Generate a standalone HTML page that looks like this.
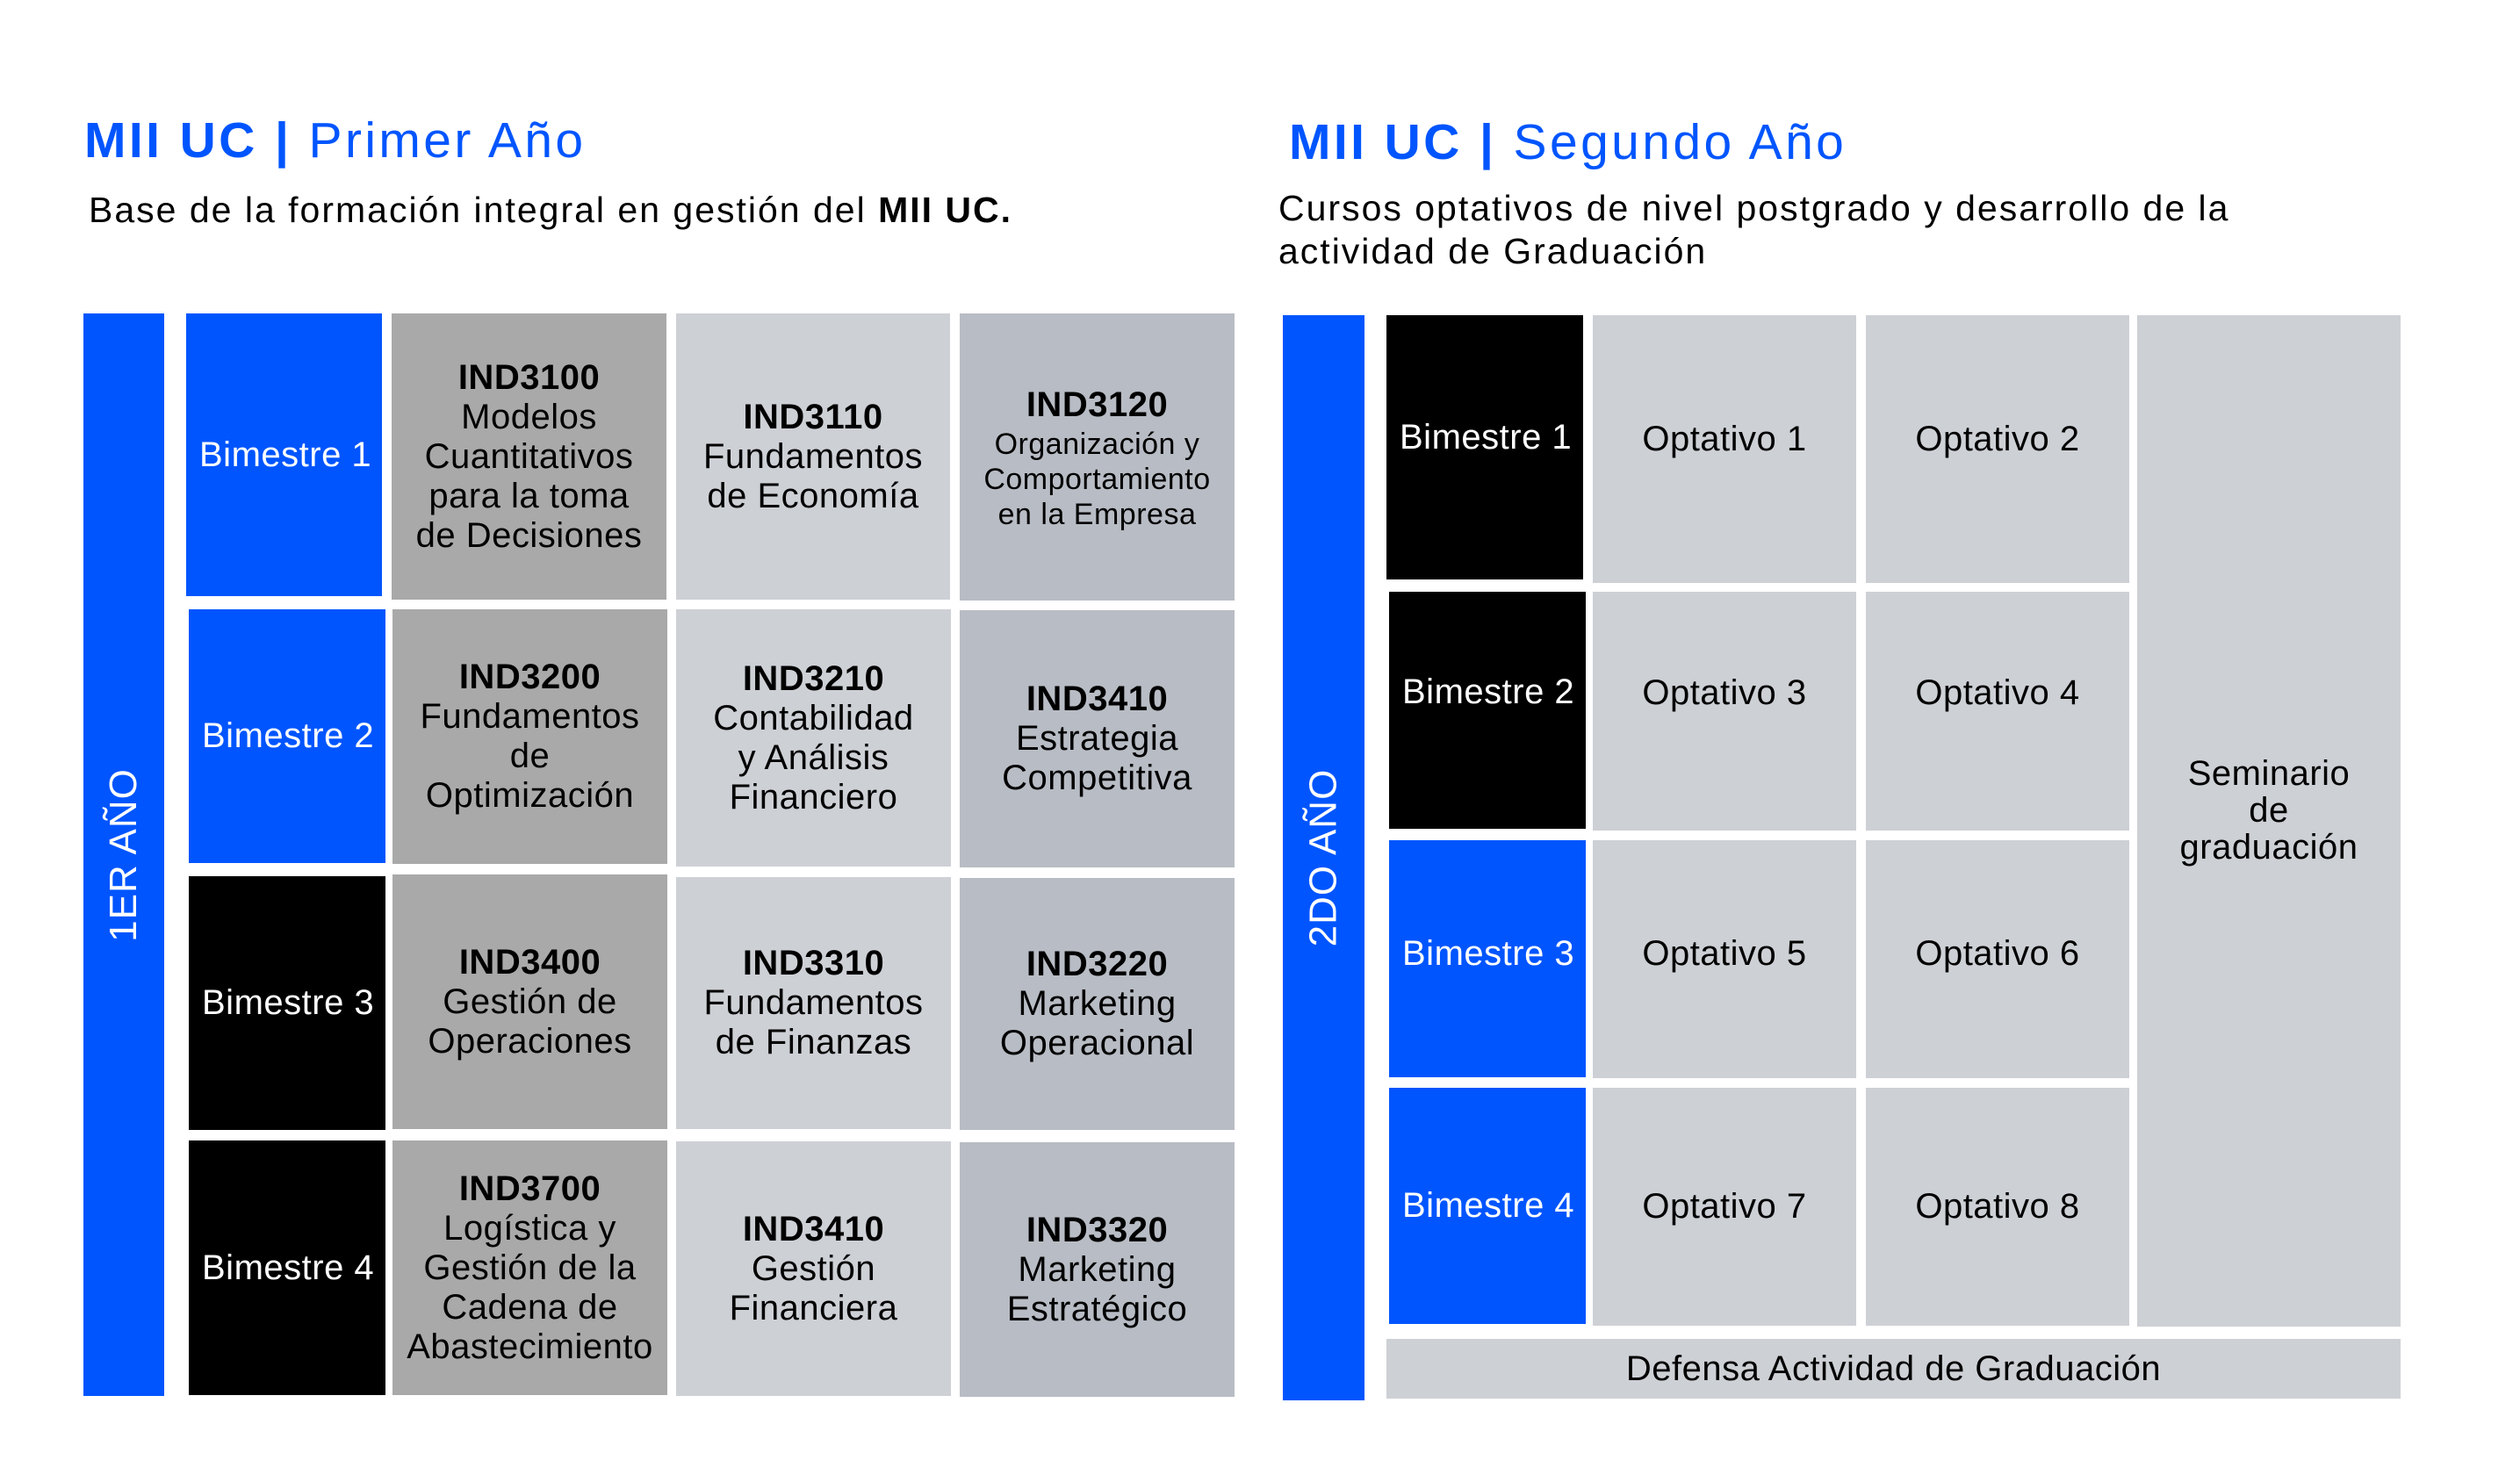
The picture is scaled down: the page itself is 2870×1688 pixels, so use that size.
<!DOCTYPE html>
<html><head><meta charset="utf-8">
<style>
html,body{margin:0;padding:0;background:#fff;}
body{width:2870px;height:1688px;position:relative;overflow:hidden;font-family:"Liberation Sans",sans-serif;color:#000;}
.a{position:absolute;box-sizing:border-box;}
.c{display:flex;flex-direction:column;align-items:center;justify-content:center;text-align:center;font-size:40px;line-height:45px;letter-spacing:0.5px;}
.c b{font-weight:bold;}
.bl{background:#0055FF;}
.bk{background:#000;}
.g1{background:#A9A9A9;}
.g2{background:#CDD0D5;}
.g3{background:#B8BCC4;}
.bim{color:#fff;font-size:40px;display:flex;align-items:center;padding-left:15px;letter-spacing:0.5px;}
.t{font-size:57px;color:#0055FF;white-space:nowrap;letter-spacing:3.4px;}
.s{font-size:41px;white-space:nowrap;line-height:49px;letter-spacing:2px;}
.vert{color:#fff;font-size:44px;letter-spacing:1px;white-space:nowrap;transform:rotate(-90deg);}
</style></head><body>

<div class="a t" style="left:96px;top:127px;"><b>MII UC |</b> Primer Año</div>
<div class="a s" style="left:101px;top:215px;">Base de la formación integral en gestión del <b>MII UC.</b></div>

<div class="a bl" style="left:95px;top:357px;width:92px;height:1233px;"></div>
<div class="a" style="left:95px;top:357px;width:92px;height:1233px;display:flex;align-items:center;justify-content:center;"><div class="vert">1ER AÑO</div></div>

<div class="a bl bim" style="left:212px;top:357px;width:223px;height:322px;">Bimestre 1</div>
<div class="a bl bim" style="left:215px;top:694px;width:224px;height:289px;">Bimestre 2</div>
<div class="a bk bim" style="left:215px;top:998px;width:224px;height:289px;">Bimestre 3</div>
<div class="a bk bim" style="left:215px;top:1299px;width:224px;height:290px;">Bimestre 4</div>

<div class="a g1 c" style="left:446px;top:357px;width:313px;height:326px;"><b>IND3100</b>Modelos<br>Cuantitativos<br>para la toma<br>de Decisiones</div>
<div class="a g2 c" style="left:770px;top:357px;width:312px;height:326px;"><b>IND3110</b>Fundamentos<br>de Economía</div>
<div class="a g3 c" style="left:1093px;top:357px;width:313px;height:327px;"><b style="line-height:50px">IND3120</b><span style="font-size:34px;line-height:40px">Organización y<br>Comportamiento<br>en la Empresa</span></div>

<div class="a g1 c" style="left:447px;top:694px;width:313px;height:290px;"><b>IND3200</b>Fundamentos<br>de<br>Optimización</div>
<div class="a g2 c" style="left:770px;top:694px;width:313px;height:293px;"><b>IND3210</b>Contabilidad<br>y Análisis<br>Financiero</div>
<div class="a g3 c" style="left:1093px;top:695px;width:313px;height:293px;"><b>IND3410</b>Estrategia<br>Competitiva</div>

<div class="a g1 c" style="left:447px;top:996px;width:313px;height:290px;"><b>IND3400</b>Gestión de<br>Operaciones</div>
<div class="a g2 c" style="left:770px;top:999px;width:313px;height:287px;"><b>IND3310</b>Fundamentos<br>de Finanzas</div>
<div class="a g3 c" style="left:1093px;top:1000px;width:313px;height:287px;"><b>IND3220</b>Marketing<br>Operacional</div>

<div class="a g1 c" style="left:447px;top:1299px;width:313px;height:290px;"><b>IND3700</b>Logística y<br>Gestión de la<br>Cadena de<br>Abastecimiento</div>
<div class="a g2 c" style="left:770px;top:1300px;width:313px;height:290px;"><b>IND3410</b>Gestión<br>Financiera</div>
<div class="a g3 c" style="left:1093px;top:1301px;width:313px;height:290px;"><b>IND3320</b>Marketing<br>Estratégico</div>

<div class="a t" style="left:1468px;top:129px;"><b>MII UC |</b> Segundo Año</div>
<div class="a s" style="left:1456px;top:213px;">Cursos optativos de nivel postgrado y desarrollo de la<br>actividad de Graduación</div>

<div class="a bl" style="left:1461px;top:359px;width:93px;height:1236px;"></div>
<div class="a" style="left:1461px;top:359px;width:93px;height:1236px;display:flex;align-items:center;justify-content:center;"><div class="vert">2DO AÑO</div></div>

<div class="a bk bim" style="left:1579px;top:359px;width:224px;height:301px;padding-bottom:22px;">Bimestre 1</div>
<div class="a bk bim" style="left:1582px;top:674px;width:224px;height:270px;padding-bottom:42px;">Bimestre 2</div>
<div class="a bl bim" style="left:1582px;top:957px;width:224px;height:270px;padding-bottom:12px;">Bimestre 3</div>
<div class="a bl bim" style="left:1582px;top:1239px;width:224px;height:269px;">Bimestre 4</div>

<div class="a g2 c" style="left:1814px;top:359px;width:300px;height:305px;padding-bottom:22px;">Optativo 1</div>
<div class="a g2 c" style="left:2125px;top:359px;width:300px;height:305px;padding-bottom:22px;">Optativo 2</div>
<div class="a g2 c" style="left:1814px;top:674px;width:300px;height:272px;padding-bottom:42px;">Optativo 3</div>
<div class="a g2 c" style="left:2125px;top:674px;width:300px;height:272px;padding-bottom:42px;">Optativo 4</div>
<div class="a g2 c" style="left:1814px;top:957px;width:300px;height:271px;padding-bottom:12px;">Optativo 5</div>
<div class="a g2 c" style="left:2125px;top:957px;width:300px;height:271px;padding-bottom:12px;">Optativo 6</div>
<div class="a g2 c" style="left:1814px;top:1239px;width:300px;height:271px;">Optativo 7</div>
<div class="a g2 c" style="left:2125px;top:1239px;width:300px;height:271px;">Optativo 8</div>

<div class="a g2" style="left:2434px;top:359px;width:300px;height:1152px;"></div>
<div class="a c" style="left:2434px;top:860px;width:300px;line-height:42px;">Seminario<br>de<br>graduación</div>

<div class="a g2 c" style="left:1579px;top:1525px;width:1155px;height:68px;">Defensa Actividad de Graduación</div>

</body></html>
